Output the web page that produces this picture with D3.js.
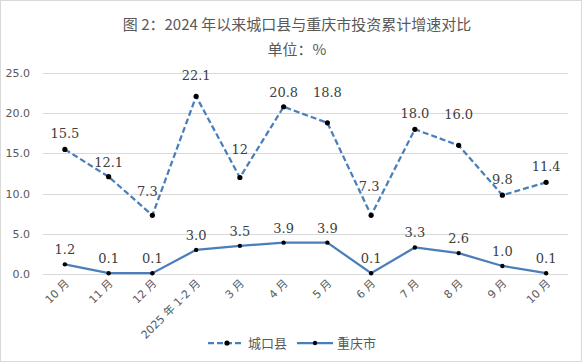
<!DOCTYPE html>
<html>
<head>
<meta charset="utf-8">
<script src="https://cdn.jsdelivr.net/npm/d3@7"></script>
<style>
  body { margin: 0; background: #fff; }
  svg { display: block; }
</style>
</head>
<body>
<div id="chart"></div>
<script>
// chart data
var months = ["10 月", "11 月", "12 月", "2025 年 1-2 月", "3 月", "4 月", "5 月", "6 月", "7 月", "8 月", "9 月", "10 月"];
var chengkou = [15.5, 12.1, 7.3, 22.1, 12, 20.8, 18.8, 7.3, 18.0, 16.0, 9.8, 11.4];
var chongqing = [1.2, 0.1, 0.1, 3.0, 3.5, 3.9, 3.9, 0.1, 3.3, 2.6, 1.0, 0.1];
var chengkouText = ["15.5", "12.1", "7.3", "22.1", "12", "20.8", "18.8", "7.3", "18.0", "16.0", "9.8", "11.4"];
var chongqingText = ["1.2", "0.1", "0.1", "3.0", "3.5", "3.9", "3.9", "0.1", "3.3", "2.6", "1.0", "0.1"];
var yTicks = [0, 5, 10, 15, 20, 25];

// label nudges, as placed in the original
var ckLift = [16, 15, 24, 21, 29, 15, 31, 29, 16, 31, 16, 16];
var ckShift = [0, 0, -5, 0, 0, 0, 0, -2, 0, 0, 0, 0];

var svgWidth = 582;
var svgHeight = 362;
var margin = { top: 73, right: 14, bottom: 88, left: 43 };
var width = svgWidth - margin.left - margin.right;
var height = svgHeight - margin.top - margin.bottom;

var blue = "#4a7ebb";
var gray = "#595959";

var svg = d3.select("#chart")
  .append("svg")
  .attr("width", svgWidth)
  .attr("height", svgHeight);

svg.append("rect")
  .attr("x", 0.5).attr("y", 0.5)
  .attr("width", svgWidth - 1).attr("height", svgHeight - 1)
  .attr("fill", "#fff")
  .attr("stroke", "#d9d9d9");

// title
svg.append("text")
  .attr("x", 297).attr("y", 30)
  .attr("text-anchor", "middle")
  .style("font", "15px 'Noto Sans CJK SC'")
  .style("fill", gray)
  .text("图 2：2024 年以来城口县与重庆市投资累计增速对比");

svg.append("text")
  .attr("x", 297).attr("y", 55)
  .attr("text-anchor", "middle")
  .style("font", "15px 'Noto Sans CJK SC'")
  .style("fill", gray)
  .text("单位：%");

var chartGroup = svg.append("g")
  .attr("transform", `translate(${margin.left}, ${margin.top})`);

var xScale = d3.scaleBand()
  .domain(months.map((m, i) => i))
  .range([0, width]);

var yScale = d3.scaleLinear()
  .domain([0, 25])
  .range([height, 0]);

var cx = i => xScale(i) + xScale.bandwidth() / 2;

// gridlines
chartGroup.append("g")
  .selectAll("line")
  .data(yTicks)
  .enter()
  .append("line")
  .attr("x1", 0).attr("x2", width)
  .attr("y1", d => Math.round(yScale(d)) + 0.5)
  .attr("y2", d => Math.round(yScale(d)) + 0.5)
  .attr("stroke", "#d9d9d9");

// y axis labels
var leftAxis = d3.axisLeft(yScale)
  .tickValues(yTicks)
  .tickFormat(d3.format(".1f"))
  .tickSize(0)
  .tickPadding(13);

var yAxis = chartGroup.append("g").call(leftAxis);
yAxis.select(".domain").remove();
yAxis.selectAll("text")
  .style("font", "11px 'DejaVu Sans'")
  .style("fill", gray);

// x axis labels, rotated
var xAxis = chartGroup.append("g")
  .selectAll("text")
  .data(months)
  .enter()
  .append("text")
  .attr("text-anchor", "end")
  .attr("transform", (d, i) => `translate(${cx(i) + 5}, ${height + 10}) rotate(-45)`)
  .style("font", "11px 'DejaVu Sans', 'Noto Sans CJK SC'")
  .style("fill", gray)
  .text(d => d);

var line = d3.line()
  .x((d, i) => cx(i))
  .y(d => yScale(d));

// 城口县
chartGroup.append("path")
  .datum(chengkou)
  .attr("d", line)
  .attr("fill", "none")
  .attr("stroke", blue)
  .attr("stroke-width", 2.25)
  .attr("stroke-dasharray", "6,3");

// 重庆市
chartGroup.append("path")
  .datum(chongqing)
  .attr("d", line)
  .attr("fill", "none")
  .attr("stroke", blue)
  .attr("stroke-width", 2.25);

chartGroup.append("g")
  .selectAll("circle")
  .data(chengkou)
  .enter()
  .append("circle")
  .attr("cx", (d, i) => cx(i))
  .attr("cy", d => yScale(d))
  .attr("r", 2.6)
  .attr("fill", "#000");

chartGroup.append("g")
  .selectAll("circle")
  .data(chongqing)
  .enter()
  .append("circle")
  .attr("cx", (d, i) => cx(i))
  .attr("cy", d => yScale(d))
  .attr("r", 2.2)
  .attr("fill", "#000");

// data labels
chartGroup.append("g")
  .selectAll("text")
  .data(chengkou)
  .enter()
  .append("text")
  .attr("text-anchor", "middle")
  .attr("x", (d, i) => cx(i) + ckShift[i])
  .attr("y", (d, i) => yScale(d) - ckLift[i] + 5)
  .style("font", "13px 'DejaVu Serif'")
  .style("fill", "#404040")
  .text((d, i) => chengkouText[i]);

chartGroup.append("g")
  .selectAll("text")
  .data(chongqing)
  .enter()
  .append("text")
  .attr("text-anchor", "middle")
  .attr("x", (d, i) => cx(i))
  .attr("y", d => yScale(d) - 10)
  .style("font", "13px 'DejaVu Serif'")
  .style("fill", "#404040")
  .text((d, i) => chongqingText[i]);

// legend
var legend = svg.append("g").attr("transform", "translate(0, 343)");

legend.append("line")
  .attr("x1", 208).attr("x2", 243)
  .attr("stroke", blue).attr("stroke-width", 2.25)
  .attr("stroke-dasharray", "6,3");
legend.append("circle").attr("cx", 227).attr("r", 2.6).attr("fill", "#000");
legend.append("text")
  .attr("x", 248).attr("y", 5)
  .style("font", "13px 'Noto Sans CJK SC'")
  .style("fill", gray)
  .text("城口县");

legend.append("line")
  .attr("x1", 297).attr("x2", 333)
  .attr("stroke", blue).attr("stroke-width", 2.25);
legend.append("circle").attr("cx", 315).attr("r", 2.2).attr("fill", "#000");
legend.append("text")
  .attr("x", 337).attr("y", 5)
  .style("font", "13px 'Noto Sans CJK SC'")
  .style("fill", gray)
  .text("重庆市");
</script>
</body>
</html>
